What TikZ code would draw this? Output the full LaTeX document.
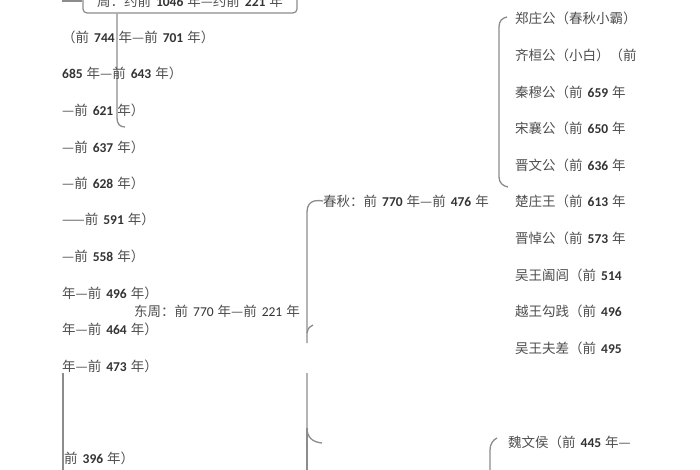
\documentclass[tikz,border=0pt]{standalone}
\usepackage{fontspec}
\setmainfont{Noto Sans CJK SC}
\newfontfamily\numf{Carlito}
\definecolor{txtgray}{HTML}{4E4E4E}
\definecolor{numgray}{HTML}{333333}
\definecolor{linegray}{HTML}{8C8C8C}
\newcommand\N[1]{\hspace{5pt}{\numf\bfseries\color{numgray}#1}\hspace{4pt}}
\newcommand\NL[1]{\hspace{5pt}{\numf\color{numgray}#1}\hspace{4pt}}
\begin{document}
\begin{tikzpicture}[x=1pt,y=-1pt,
  lbl/.style={anchor=west,inner sep=0pt,text=txtgray,font=\fontsize{13.5}{15}\selectfont},
  topbox/.style={draw=linegray,line width=1.2pt,rounded corners=4pt,minimum width=214pt,minimum height=24pt,inner sep=0pt,text=txtgray,font=\fontsize{13.5}{15}\selectfont},
  link/.style={draw=linegray,line width=1.3pt}]
\useasboundingbox (0,0) rectangle (700,470);
\clip (0,0) rectangle (700,470);
% top box
\node[topbox] (zhou) at (190,1) {周：约前\N{1046}年—约前\N{221}年};
\coordinate (lin) at (62,1);
\draw[link] (lin) -- (zhou.west);
\coordinate (zv) at (117,118);
\coordinate (zend) at (125,127);
\draw[link] (zhou.south -| zv) -- (zv) .. controls (117,124) and (120,127) .. (zend);
% left column
\node[lbl] (t1) at (62,37) {（前\N{744}年—前\N{701}年）};
\node[lbl] (t2) at (62,73) {{\numf\bfseries\color{numgray}685}\hspace{4pt}年—前\N{643}年）};
\node[lbl] (t3) at (62,110) {—前\N{621}年）};
\node[lbl] (t4) at (62,147) {—前\N{637}年）};
\node[lbl] (t5) at (62,183) {—前\N{628}年）};
\node[lbl] (t6) at (62,219) {——前\N{591}年）};
\node[lbl] (t7) at (62,256) {—前\N{558}年）};
\node[lbl] (t8) at (62,293) {年—前\N{496}年）};
\node[lbl] (t9) at (62,329) {年—前\N{464}年）};
\node[lbl] (t10) at (62,366) {年—前\N{473}年）};
\node[lbl] (t11) at (64,458) {前\N{396}年）};
\coordinate (lv1) at (63,373);
\coordinate (lv2) at (63,470);
\draw[link] (lv1) -- (lv2);
% middle
\node[lbl] (dz) at (134,311) {东周：前\NL{770}年—前\NL{221}年};
\node[lbl] (cq) at (323,201) {春秋：前\N{770}年—前\N{476}年};
\coordinate (ma) at (307,213);
\coordinate (mb) at (307,343);
\coordinate (mt) at (307,333);
\coordinate (mte) at (313,325);
\draw[link] (cq.west) .. controls (311,199) and (307,204) .. (ma) -- (mb);
\draw[link] (mt) .. controls (308,328) and (310,326) .. (mte);
\coordinate (mc) at (307,373);
\coordinate (md) at (307,428);
\coordinate (me) at (322,443);
\coordinate (mf) at (307,470);
\draw[link] (mc) -- (md) .. controls (307,437) and (312,442) .. (me);
\draw[link] (md) -- (mf);
% right column
\node[lbl] (r1) at (515,18) {郑庄公（春秋小霸）};
\node[lbl] (r2) at (515,55) {齐桓公（小白）（前};
\node[lbl] (r3) at (515,92) {秦穆公（前\N{659}年};
\node[lbl] (r4) at (515,128) {宋襄公（前\N{650}年};
\node[lbl] (r5) at (515,165) {晋文公（前\N{636}年};
\node[lbl] (r6) at (515,201) {楚庄王（前\N{613}年};
\node[lbl] (r7) at (515,238) {晋悼公（前\N{573}年};
\node[lbl] (r8) at (515,275) {吴王阖闾（前\N{514}};
\node[lbl] (r9) at (515,311) {越王勾践（前\N{496}};
\node[lbl] (r10) at (515,348) {吴王夫差（前\N{495}};
\coordinate (ra) at (507,17);
\coordinate (rb) at (499,27);
\coordinate (rc) at (499,177);
\coordinate (rd) at (508,187);
\draw[link] (ra) .. controls (502,18) and (499,21) .. (rb) -- (rc) .. controls (499,183) and (503,186) .. (rd);
% bottom right
\node[lbl] (w1) at (508,442) {魏文侯（前\N{445}年—};
\coordinate (wa) at (497,438);
\coordinate (wb) at (490,450);
\coordinate (wc) at (490,470);
\draw[link] (wa) .. controls (493,440) and (490,444) .. (wb) -- (wc);
\end{tikzpicture}
\end{document}
